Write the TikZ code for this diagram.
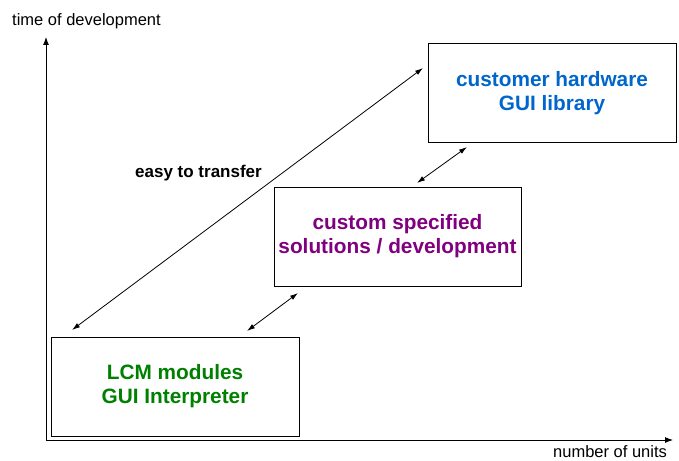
\documentclass[tikz,border=0pt]{standalone}
\usepackage{fontspec}
\setmainfont{Liberation Sans}
\usetikzlibrary{arrows.meta}
\definecolor{lcmgreen}{HTML}{008000}
\definecolor{custpurple}{HTML}{800080}
\definecolor{hwblue}{HTML}{0066CC}
\tikzset{
  axisline/.style={line width=0.9pt, -{Latex[length=8pt,width=6pt]}},
  link/.style={line width=0.8pt, {Latex[length=8pt,width=5pt]}-{Latex[length=8pt,width=5pt]}},
  box/.style={draw, line width=1pt, inner sep=0pt, align=center,
    font=\fontsize{20.8}{24}\selectfont\bfseries},
  axislabel/.style={inner sep=0pt, font=\fontsize{16.5}{19}\selectfont},
  boldlabel/.style={inner sep=0pt, font=\fontsize{17}{20}\selectfont\bfseries}
}
\begin{document}
\begin{tikzpicture}[x=1pt,y=-1pt]
\useasboundingbox (0,0) rectangle (679,460);
% axes
\coordinate (O) at (46,440);
\coordinate (ytop) at (46,37);
\coordinate (xend) at (673,440);
\draw[axisline] (O) -- (ytop);
\draw[axisline] (O) -- (xend);
\node[axislabel, anchor=base west] (ylab) at (12,26) {time of development};
\node[axislabel, anchor=base west] (xlab) at (553,457.5) {number of units};
% boxes
\node[box, text=lcmgreen, minimum width=248pt, minimum height=99pt] (lcm) at (175,386.5) {LCM modules\\GUI Interpreter};
\node[box, text=custpurple, minimum width=247pt, minimum height=99pt] (cust) at (397.5,236.5) {custom specified\\solutions / development};
\node[box, text=hwblue, minimum width=248pt, minimum height=98pt] (hw) at (552,93) {customer hardware\\GUI library};
% connectors
\coordinate (a1) at (72,330);
\coordinate (a2) at (423,68);
\coordinate (b1) at (247,331);
\coordinate (b2) at (298,293);
\coordinate (c1) at (417,183);
\coordinate (c2) at (467,147);
\draw[link] (a1) -- (a2);
\draw[link] (b1) -- (b2);
\draw[link] (c1) -- (c2);
\node[boldlabel, anchor=base west] (easy) at (135,177) {easy to transfer};
\end{tikzpicture}
\end{document}
